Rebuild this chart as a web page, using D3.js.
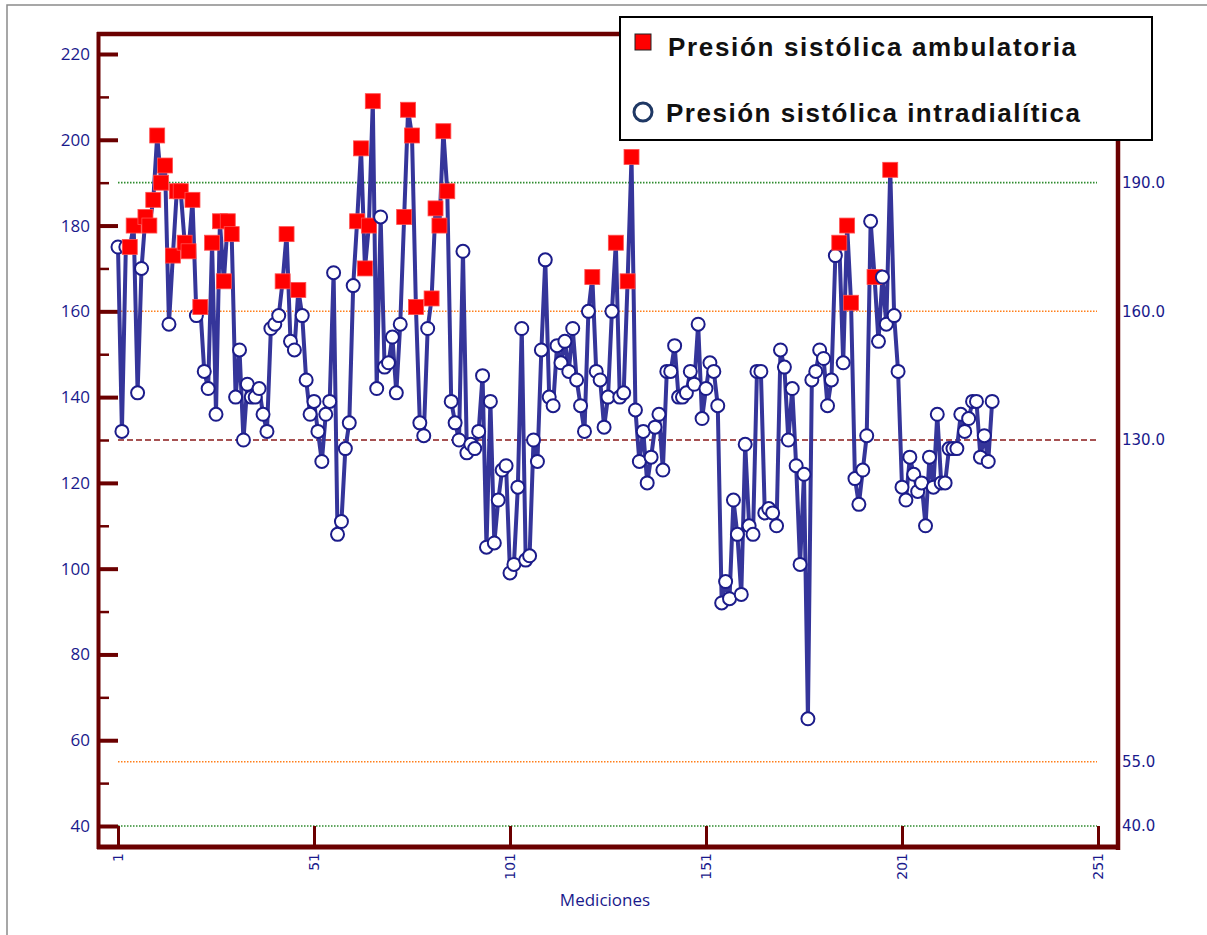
<!DOCTYPE html>
<html><head><meta charset="utf-8">
<script src="https://cdn.jsdelivr.net/npm/d3@7"></script>
<style>
html,body{margin:0;padding:0;background:#fff;}
svg{display:block;}
</style></head>
<body>
<svg id="chart" width="1207" height="935"></svg>
<script>
// Systolic pressure per measurement (1..224)
const presion = [
175,132,175,175,180,141,170,182,180,186,201,190,194,157,173,188,188,176,174,186,
159,161,146,142,176,136,181,167,181,178,140,151,130,143,140,140,142,136,132,156,
157,159,167,178,153,151,165,159,144,136,139,132,125,136,139,169,108,111,128,134,
166,181,198,170,180,209,142,182,147,148,154,141,157,182,207,201,161,134,131,156,
163,184,180,202,188,139,134,130,174,127,129,128,132,145,105,139,106,116,123,124,
99,101,119,156,102,103,130,125,151,172,140,138,152,148,153,146,156,144,138,132,
160,168,146,144,133,140,160,176,140,141,167,196,137,125,132,120,126,133,136,123,
146,146,152,140,140,141,146,143,157,135,142,148,146,138,92,97,93,116,108,94,
129,110,108,146,146,113,114,113,110,151,147,130,142,124,101,122,65,144,146,151,
149,138,144,173,176,148,180,162,121,115,123,131,181,168,153,168,157,193,159,146,
119,116,126,122,118,120,110,126,119,136,120,120,128,128,128,136,132,135,139,139,
126,131,125,139
];
// Measurements recorded as ambulatory (red squares); the rest are intradialytic
const ambulatoria = [4,5,8,9,10,11,12,13,15,16,17,18,19,20,22,25,27,28,29,30,43,44,47,
62,63,64,65,66,74,75,76,77,81,82,83,84,85,122,128,131,132,185,187,188,194,198];
const xTicks = [1,51,101,151,201,251];
const yMajor = [40,60,80,100,120,140,160,180,200,220];
const yMinor = [50,70,90,110,130,150,170,190,210];
const refLines = [190,160,130,55,40];
const refLabels = ["190.0","160.0","130.0","55.0","40.0"];
const legendLabels = ["Presión sistólica ambulatoria","Presión sistólica intradialítica"];
const xTitle = "Mediciones";

const svg = d3.select("#chart");
const navy = "#1a1a8c", frame = "#6b0000";
const x = d3.scaleLinear().domain([1,251]).range([118,1098]);
const y = d3.scaleLinear().domain([40,220]).range([826,54]);

// outer border
svg.append("rect").attr("x",7).attr("y",5).attr("width",1300).attr("height",1000)
  .attr("fill","none").attr("stroke","#8a8a8a").attr("stroke-width",1.5);

// reference lines
const refStyle = {190:["#2e8b2e","1.5,1.5",1.6],160:["#ff7f1a","1.5,1.5",1.5],130:["#8b1a1a","6,3",1.5],55:["#ff7f1a","1.5,1.5",1.5],40:["#2e8b2e","1.5,1.5",1.6]};
refLines.forEach((v,i)=>{
  const s = refStyle[v];
  svg.append("line").attr("x1",x(1)).attr("x2",1097).attr("y1",y(v)).attr("y2",y(v))
    .attr("stroke",s[0]).attr("stroke-dasharray",s[1]).attr("stroke-width",s[2]);
  svg.append("text").attr("x",1122).attr("y",y(v)).attr("dy","0.35em")
    .attr("font-family","DejaVu Sans").attr("font-size",15).attr("fill",navy).text(refLabels[i]);
});

// axes
const gyMaj = svg.append("g").attr("transform","translate(100,0)")
  .call(d3.axisLeft(y).tickValues(yMajor).tickSize(-18).tickPadding(10).tickFormat(d3.format("d")));
gyMaj.select(".domain").remove();
gyMaj.selectAll("line").attr("stroke",frame).attr("stroke-width",4);
gyMaj.selectAll("text").attr("font-family","Open Sans").attr("font-size",17).attr("fill",navy);
const gyMin = svg.append("g").attr("transform","translate(100,0)")
  .call(d3.axisLeft(y).tickValues(yMinor).tickSize(-9).tickFormat(""));
gyMin.select(".domain").remove();
gyMin.selectAll("line").attr("stroke",frame).attr("stroke-width",2.5);

const gx = svg.append("g").attr("transform","translate(0,847)")
  .call(d3.axisBottom(x).tickValues(xTicks).tickSize(-21).tickFormat(d3.format("d")));
gx.select(".domain").remove();
gx.selectAll("line").attr("stroke",frame).attr("stroke-width",3);
gx.selectAll("text").attr("transform","rotate(-90)").attr("x",-6).attr("y",0).attr("dy","0.35em")
  .style("text-anchor","end").attr("font-family","DejaVu Sans").attr("font-size",14).attr("fill",navy);

// frame
svg.append("line").attr("x1",98.5).attr("x2",98.5).attr("y1",32).attr("y2",849).attr("stroke",frame).attr("stroke-width",4);
svg.append("line").attr("x1",97).attr("x2",1120).attr("y1",34).attr("y2",34).attr("stroke",frame).attr("stroke-width",4.5);
svg.append("line").attr("x1",1118).attr("x2",1118).attr("y1",32).attr("y2",850).attr("stroke",frame).attr("stroke-width",4.5);
svg.append("line").attr("x1",97).attr("x2",1120).attr("y1",847).attr("y2",847).attr("stroke",frame).attr("stroke-width",5);

svg.append("text").attr("x",605).attr("y",900).attr("dy","0.35em").attr("text-anchor","middle")
  .attr("font-family","Open Sans").attr("font-size",17).attr("fill",navy).text(xTitle);

// data
const pts = presion.map((v,i)=>({n:i+1,v:v,amb:ambulatoria.includes(i+1)}));
svg.append("path").datum(pts)
  .attr("d",d3.line().x(d=>x(d.n)).y(d=>y(d.v)))
  .attr("fill","none").attr("stroke","#35359a").attr("stroke-width",4).attr("stroke-linejoin","round");
const mk = svg.append("g");
pts.forEach(d=>{
  if(d.amb){
    mk.append("rect").attr("x",x(d.n)-7.5).attr("y",y(d.v)-7.5).attr("width",15).attr("height",15)
      .attr("fill","#ff0000").attr("stroke","#ff5050").attr("stroke-width",0.8);
  } else {
    mk.append("circle").attr("cx",x(d.n)).attr("cy",y(d.v)).attr("r",6.5)
      .attr("fill","#fff").attr("stroke","#1c1c8a").attr("stroke-width",2);
  }
});

// legend
const lg = svg.append("g");
lg.append("rect").attr("x",620).attr("y",17).attr("width",532).attr("height",123)
  .attr("fill","#fff").attr("stroke","#000").attr("stroke-width",2);
lg.append("rect").attr("x",635).attr("y",34).attr("width",16).attr("height",16)
  .attr("fill","#ff0000").attr("stroke","#222").attr("stroke-width",1);
lg.append("circle").attr("cx",643).attr("cy",112).attr("r",9)
  .attr("fill","#fff").attr("stroke","#1f3864").attr("stroke-width",3);
lg.append("text").attr("x",668).attr("y",56).attr("font-family","Liberation Sans").attr("font-weight","bold")
  .attr("font-size",26).attr("textLength",408).attr("lengthAdjust","spacing").attr("fill","#111").text(legendLabels[0]);
lg.append("text").attr("x",666).attr("y",122).attr("font-family","Liberation Sans").attr("font-weight","bold")
  .attr("font-size",26).attr("textLength",414).attr("lengthAdjust","spacing").attr("fill","#111").text(legendLabels[1]);
</script>
</body></html>
